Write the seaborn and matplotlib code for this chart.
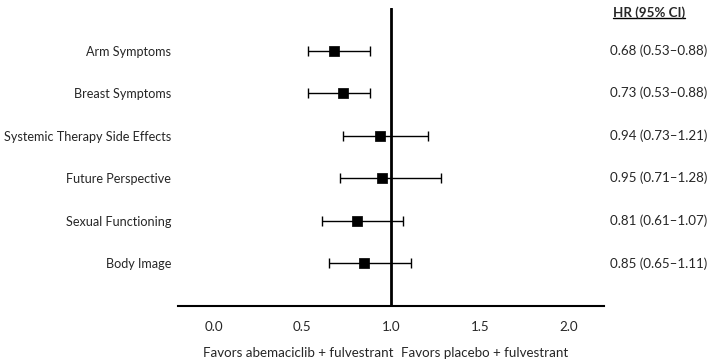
import numpy as np
import pandas as pd
import matplotlib
matplotlib.use("Agg")
import matplotlib.pyplot as plt
from matplotlib.lines import Line2D
from matplotlib.transforms import blended_transform_factory
import seaborn as sns

# data
domains = ["Arm Symptoms", "Breast Symptoms", "Systemic Therapy Side Effects",
           "Future Perspective", "Sexual Functioning", "Body Image"]
hr = [0.68, 0.73, 0.94, 0.95, 0.81, 0.85]
ci_low = [0.53, 0.53, 0.73, 0.71, 0.61, 0.65]
ci_high = [0.88, 0.88, 1.21, 1.28, 1.07, 1.11]
x_ticks = [0.0, 0.5, 1.0, 1.5, 2.0]

df = pd.DataFrame({"domain": domains, "hr": hr, "lo": ci_low, "hi": ci_high})
df["pos"] = np.arange(len(df), 0, -1)

sns.set_style("white")
plt.rcParams["font.family"] = ["Lato", "DejaVu Sans"]
fs = 9.6

fig = plt.figure(figsize=(7.09, 3.62), dpi=100)
ax = fig.add_axes([0.251, 0.155, 0.601, 0.823])

# confidence intervals
ax.errorbar(df["hr"], df["pos"],
            xerr=[df["hr"] - df["lo"], df["hi"] - df["hr"]],
            fmt="none", ecolor="black", elinewidth=1, capsize=3.5, capthick=1)
sns.scatterplot(data=df, x="hr", y="pos", marker="s", s=42, color="black",
                edgecolor="black", ax=ax, zorder=3)

ax.axvline(1.0, color="black", lw=2, zorder=2)

ax.set_xlim(-0.2, 2.2)
ax.set_ylim(0, 7)
ax.set_xticks(x_ticks)
ax.set_xticklabels([f"{t:.1f}" for t in x_ticks])
ax.set_yticks(df["pos"])
ax.set_yticklabels(df["domain"])
ax.tick_params(axis="y", length=0, pad=5, labelsize=9.1)
ax.tick_params(axis="x", direction="out", length=3, width=1.2, pad=8, labelsize=fs)
ax.set_xlabel("")
ax.set_ylabel("")
for side in ["left", "right", "top"]:
    ax.spines[side].set_visible(False)
ax.spines["bottom"].set_linewidth(1.5)
ax.spines["bottom"].set_color("black")

# favors labels under the axis
trans = blended_transform_factory(ax.transData, fig.transFigure)
ax.annotate("Favors abemaciclib + fulvestrant", xy=(1.0, 0.025), xycoords=trans,
            xytext=(2, 0), textcoords="offset points",
            ha="right", va="center", fontsize=fs)
ax.annotate("Favors placebo + fulvestrant", xy=(1.0, 0.025), xycoords=trans,
            xytext=(7, 0), textcoords="offset points",
            ha="left", va="center", fontsize=fs)

# HR column on the right
trans_r = blended_transform_factory(fig.transFigure, ax.transData)
for _, r in df.iterrows():
    ax.text(0.860, r["pos"], f"{r['hr']:.2f} ({r['lo']:.2f}\u2013{r['hi']:.2f})",
            transform=trans_r, ha="left", va="center", fontsize=fs)
hdr = fig.text(0.864, 0.965, "HR (95% CI)", ha="left", va="center",
               fontsize=fs, fontweight="bold")

fig.canvas.draw()
bb = hdr.get_window_extent().transformed(fig.transFigure.inverted())
fig.add_artist(Line2D([bb.x0, bb.x1], [bb.y0 + 0.003, bb.y0 + 0.003],
                      color="black", lw=1))

fig.savefig("out.png", dpi=100)
